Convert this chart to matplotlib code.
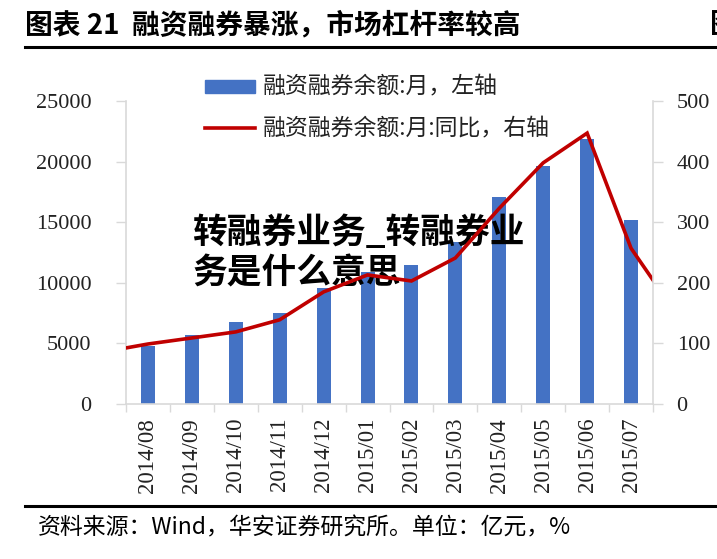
import matplotlib
matplotlib.use("Agg")
import matplotlib.pyplot as plt
import numpy as np
from matplotlib.patches import Rectangle
from matplotlib.lines import Line2D

# ---- data ----
months = ["2014/08", "2014/09", "2014/10", "2014/11", "2014/12", "2015/01",
          "2015/02", "2015/03", "2015/04", "2015/05", "2015/06", "2015/07"]
balance = [4800, 5700, 6760, 7500, 9570, 10900, 11470, 13370, 17080, 19640, 21860, 15180]
# YoY line includes the neighbouring months that are clipped at the plot edges
yoy_months = ["2014/07"] + months + ["2015/08"]
yoy = [86, 99, 109, 119, 139, 185, 213, 203, 241, 323, 398, 447, 257, 152]

left_ticks = [0, 5000, 10000, 15000, 20000, 25000]
right_ticks = [0, 100, 200, 300, 400, 500]

title = "图表 21  融资融券暴涨，市场杠杆率较高"
legend_bar = "融资融券余额:月，左轴"
legend_line = "融资融券余额:月:同比，右轴"
source = "资料来源：Wind，华安证券研究所。单位：亿元，%"
watermark1 = "转融券业务_转融券业"
watermark2 = "务是什么意思"

CJK = ["Noto Sans CJK SC", "DejaVu Sans"]
NUM = "Liberation Serif"
BAR_C = "#4472C4"
LINE_C = "#C00000"
GRID_C = "#D9D9D9"

W, H = 717, 559
fig = plt.figure(figsize=(W / 100, H / 100), dpi=100)

def fx(px):
    return px / W

def fy(py):
    return 1 - py / H

ax = fig.add_axes([fx(126), fy(404), fx(653) - fx(126), fy(101) - fy(404)])
ax.set_zorder(0)
x = np.arange(len(months))
ax.bar(x, balance, width=0.32, color=BAR_C, zorder=2)
ax.set_xlim(-0.5, len(months) - 0.5)
ax.set_ylim(0, 25000)
ax.set_yticks(left_ticks)
ax.set_yticklabels([str(v) for v in left_ticks], fontfamily=NUM, fontsize=16, color="#222222")
ax.set_xticks(x)
ax.set_xticklabels(months, rotation=90, fontfamily=NUM, fontsize=16.5, color="#222222")
ax.set_xticks(np.arange(-0.5, len(months)), minor=True)
ax.tick_params(axis="x", which="major", length=0, pad=10)
ax.tick_params(axis="x", which="minor", length=6, color=GRID_C, width=1)
ax.tick_params(axis="y", length=7, color=GRID_C, width=1, pad=18)
for s in ["top", "right"]:
    ax.spines[s].set_visible(False)
for s in ["left", "bottom"]:
    ax.spines[s].set_color(GRID_C)
    ax.spines[s].set_linewidth(1.2)

ax2 = ax.twinx()
ax2.set_zorder(2)
ax2.patch.set_visible(False)
xl = np.arange(-1, len(months) + 1)
ax2.plot(xl, yoy, color=LINE_C, lw=2.6, solid_joinstyle="miter", clip_on=True)
ax2.set_ylim(0, 500)
ax2.set_xlim(-0.5, len(months) - 0.5)
ax2.set_yticks(right_ticks)
ax2.set_yticklabels([str(v) for v in right_ticks], fontfamily=NUM, fontsize=16, color="#222222")
ax2.tick_params(axis="y", length=7, color=GRID_C, width=1, pad=10)
for s in ["top", "left", "bottom"]:
    ax2.spines[s].set_visible(False)
ax2.spines["right"].set_color(GRID_C)
ax2.spines["right"].set_linewidth(1.2)

# legend (manual)
fig.patches.append(Rectangle((fx(205), fy(93)), fx(255) - fx(205), fy(80) - fy(93),
                             transform=fig.transFigure, color=BAR_C, zorder=3))
fig.lines.append(Line2D([fx(205), fx(255)], [fy(128), fy(128)], transform=fig.transFigure,
                        color=LINE_C, lw=2.6, zorder=3))
fig.text(fx(263), fy(87), legend_bar, family=CJK, fontsize=16.5, va="center", ha="left",
         color="#222222", zorder=3)
fig.text(fx(263), fy(129), legend_line, family=CJK, fontsize=16.5, va="center", ha="left",
         color="#222222", zorder=3)

# title and rules
fig.text(fx(25), fy(25), title, family=CJK, fontsize=20, fontweight="bold", va="center",
         ha="left", color="black")
fig.text(fx(710), fy(25), "图", family=CJK, fontsize=20, fontweight="bold", va="center",
         ha="left", color="black")
fig.lines.append(Line2D([fx(25), 1], [fy(47), fy(47)], transform=fig.transFigure,
                        color="black", lw=2.2))
fig.lines.append(Line2D([fx(25), 1], [fy(506), fy(506)], transform=fig.transFigure,
                        color="black", lw=2.2))
fig.text(fx(38), fy(528), source, family=CJK, fontsize=16.5, va="center", ha="left",
         color="black")

# watermark: above bars, below the line
fig.text(fx(192), fy(233), watermark1, family=CJK, fontsize=25, fontweight="heavy",
         va="center", ha="left", color="black", zorder=1)
fig.text(fx(192), fy(273), watermark2, family=CJK, fontsize=25, fontweight="heavy",
         va="center", ha="left", color="black", zorder=1)

fig.savefig("out.png", dpi=100)
